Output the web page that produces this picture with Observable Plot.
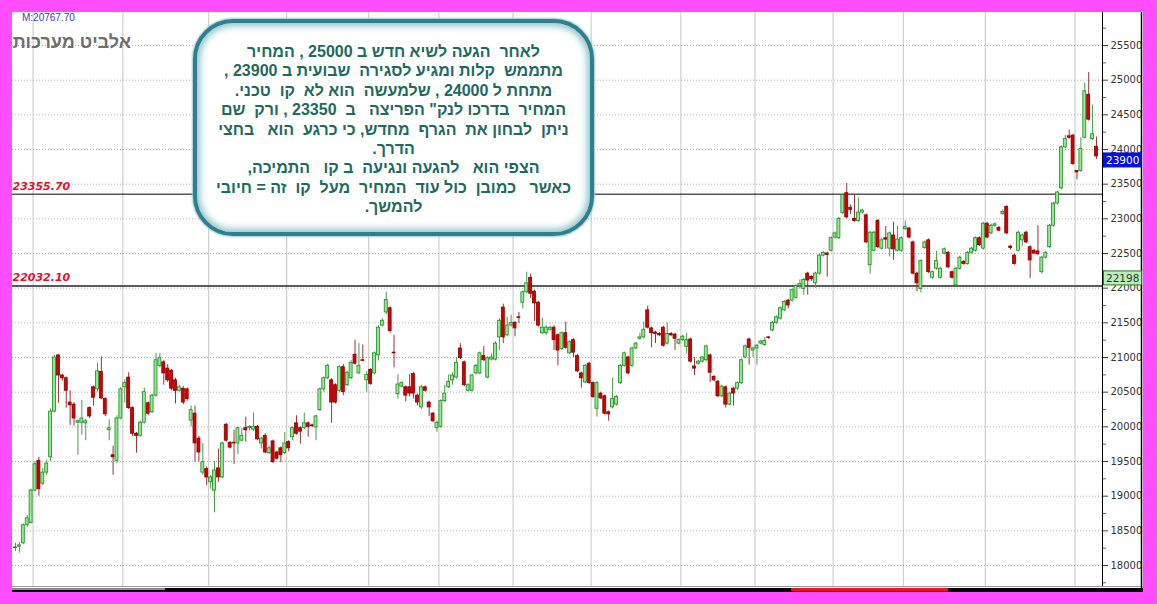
<!DOCTYPE html>
<html><head><meta charset="utf-8">
<script src="https://cdn.jsdelivr.net/npm/d3@7"></script>
<script src="https://cdn.jsdelivr.net/npm/@observablehq/plot@0.6"></script>
<style>
html,body{margin:0;padding:0;}
body{width:1157px;height:604px;background:#ff4dff;position:relative;overflow:hidden;font-family:"Liberation Sans",Arial,sans-serif;}
#panel{position:absolute;left:12px;top:12px;width:1131px;height:580px;background:#fff;overflow:hidden;}
#chart{position:absolute;left:0;top:0;}
#mlabel{position:absolute;left:10px;top:0px;font:10px "Liberation Sans",Arial,sans-serif;color:#3a3ac8;}
#title{position:absolute;right:1012px;top:20px;font:bold 18px "Liberation Sans",Arial,sans-serif;color:#6e6e6e;white-space:nowrap;direction:rtl;}
#note{position:absolute;left:181px;top:7px;width:393px;height:209px;border:4px solid #2f7f8e;border-radius:40px;background:#fff;
 box-shadow:inset 0 0 7px 3px #8dc3cc, 0 0 2px 1px #9cc8d0;box-sizing:content-box;}
#notetext{position:absolute;left:0;right:0;top:19px;direction:rtl;text-align:center;font:bold 16px "Liberation Sans",Arial,sans-serif;
 line-height:19.4px;color:#1d6a5e;white-space:pre;}
</style></head>
<body>
<div id="panel">
  <div id="chart"></div>
  <div id="mlabel"></div>
  <div id="title"></div>
  <div id="note"><div id="notetext"></div></div>
</div>
<script>
// ---------- data ----------
const open = [18250,18270,18320,18580,18610,19080,19510,19180,19340,19560,20220,21030,20740,20700,20350,20320,20060,20060,20050,20270,
20570,20540,20790,20400,19950,19590,19510,20120,20570,20710,20270,19900,19870,20060,20340,20210,20450,20880,20930,20840,
20810,20670,20520,20550,20540,20090,20190,19830,19340,19390,19200,19080,19400,19270,20030,19770,19770,19760,19800,19980,
19980,19960,20000,19760,19870,19620,19790,19630,19690,19620,19780,19850,20050,19980,19980,20050,20020,19990,20240,20540,
20700,20670,20600,20520,20860,20600,20700,21040,20770,20960,20670,20820,20770,21030,21460,21650,21710,21070,20470,20580,
20570,20570,20760,20450,20280,20570,20350,20190,19980,20000,20370,20570,20670,20710,21130,20930,20520,20520,20770,20770,
21020,20710,20970,20970,21290,21720,21320,21460,21500,21580,21790,21940,22150,21950,21790,21350,21350,21400,21430,21320,
21120,21350,21060,21250,21020,20770,20640,20910,20630,20260,20480,20440,20210,20280,20320,20630,20880,21000,20880,21130,
21270,21290,21680,21420,21360,21340,21430,21200,21340,21330,21200,21250,21150,21260,20870,20910,20940,20960,21030,20720,
20650,20440,20570,20320,20550,20550,20630,21000,21260,21100,21130,21200,21180,21290,21390,21500,21560,21680,21820,21820,
21860,22030,21990,22210,22160,22070,22210,22470,22500,22540,22730,22720,23080,23370,23160,23000,22970,23090,23050,22330,
22540,22970,22570,22720,22570,22760,22540,22540,22850,22860,22660,22210,21990,22580,22690,22150,22280,22150,22500,22510,
22230,22040,22280,22380,22350,22510,22540,22720,22570,22930,22790,22900,22870,23070,23170,22600,22470,22540,22690,22800,
22590,22540,22530,22230,22440,22590,22900,23220,23440,24030,24190,24200,23690,23690,24170,24790,24150,24040];
const high = [18320,18330,18600,18720,19100,19500,19560,19400,19520,20260,21030,21040,20760,20720,20520,20350,20100,20380,20110,20290,
20590,20920,21010,20420,20100,19720,20160,20570,20680,20780,20290,19920,20080,20560,20360,20470,21060,21060,20960,20900,
20830,20700,20600,20580,20560,20300,20300,19860,19760,19420,19300,19500,19680,19780,20050,19790,19950,20000,19980,20140,
20020,20200,20020,19850,19900,19720,19810,19650,19710,19920,19800,20000,20160,20000,20200,20070,20040,20170,20560,20720,
20900,20700,20620,20880,20900,20800,20960,21250,21200,21180,20800,20840,21080,21460,21560,21940,21730,21320,20750,20650,
20590,20750,20780,20470,20600,20590,20370,20210,20080,20390,20600,20750,20780,21000,21200,20950,20620,20760,20900,21080,
21160,21010,21050,21230,21560,21770,21580,21610,21520,21650,21960,22230,22200,21970,21810,21570,21460,21450,21460,21340,
21370,21510,21240,21270,21040,20790,20900,20930,20650,20650,20500,20460,20230,20700,20450,20900,21080,21020,21150,21220,
21350,21510,21740,21440,21380,21360,21450,21500,21360,21350,21270,21320,21350,21280,21000,20960,21020,21180,21050,20740,
20670,20600,20590,20500,20570,20650,20980,21180,21280,21150,21190,21250,21290,21300,21520,21600,21730,21820,21840,21990,
22050,22120,22140,22230,22180,22230,22490,22530,22520,22740,22810,23020,23360,23510,23200,23350,23300,23140,23070,22820,
22820,22990,22720,22890,22810,22950,22890,22740,22970,22880,22680,22230,22410,22680,22710,22250,22530,22300,22580,22530,
22250,22300,22460,22400,22530,22590,22740,22740,22950,22950,22920,22940,22890,23130,23190,22620,22490,22820,22780,22820,
22610,22560,22900,22460,22530,22920,23240,23400,24050,24200,24280,24220,23700,24170,24960,25110,24640,24180];
const low = [18200,18180,18300,18550,18600,19060,19000,19150,19300,19500,20200,20340,20660,20270,20020,20010,19590,19880,19800,20120,
20300,20500,20390,20150,19800,19300,19470,20100,20340,20250,19860,19620,19850,20040,20160,20190,20430,20850,20600,20640,
20520,20330,20500,20320,20370,20000,19490,19490,19300,19150,19100,18760,19200,19250,19780,19680,19460,19600,19780,19780,
19940,19930,19800,19680,19610,19600,19470,19520,19480,19600,19640,19800,19880,19750,19960,19850,19990,19800,20220,20500,
20680,20050,20330,20500,20450,20580,20680,20890,20760,20940,20500,20600,20750,20950,21440,21620,21350,20850,20400,20560,
20360,20430,20400,20300,20250,20500,20150,20060,19920,19980,20350,20550,20600,20690,20970,20580,20500,20500,20750,20750,
20940,20690,20950,20950,21100,21200,21300,21440,21300,21490,21700,21920,21850,21520,21440,21330,21320,21380,21100,20880,
21100,21120,21040,21000,20780,20560,20620,20610,20410,20140,20390,20170,20080,20260,20300,20610,20860,20750,20860,21110,
21250,21270,21410,21140,21200,21300,21150,21180,21300,21100,21180,21230,21050,20920,20740,20890,20920,20940,20640,20650,
20420,20420,20270,20300,20300,20530,20610,20980,20890,21000,20890,21180,21160,21260,21370,21480,21540,21660,21700,21800,
21840,21990,21900,21900,22100,22000,22190,22450,22160,22520,22710,22700,23060,23000,23060,22950,22950,23070,22640,22200,
22520,22570,22550,22560,22450,22400,22520,22520,22830,22710,22190,21950,21930,22560,22210,22130,22260,22130,22480,22280,
22130,22020,22260,22330,22330,22490,22520,22600,22550,22710,22770,22880,22810,23050,22770,22550,22330,22520,22600,22640,
22140,22480,22470,22200,22420,22570,22880,23200,23420,24010,24150,23770,23560,23670,24150,24410,24130,23860];
const close = [18260,18290,18580,18680,19080,19460,19100,19340,19470,20220,21000,20740,20700,20520,20310,20120,20080,20120,20080,20150,
20420,20800,20410,20180,19980,19560,20120,20540,20630,20270,19900,19870,20060,20500,20190,20450,20960,20990,20770,20670,
20550,20520,20570,20350,20400,20240,19760,19630,19490,19270,19270,19370,19270,19760,19800,19700,19760,19980,19870,19950,
20000,20000,19820,19830,19630,19690,19490,19540,19590,19760,19690,19980,19900,19930,20050,20000,20010,20150,20540,20700,
20880,20350,20350,20860,20500,20780,20920,20910,20880,20950,20750,20620,21060,21430,21530,21830,21380,21060,20610,20630,
20450,20480,20480,20350,20570,20520,20280,20080,20060,20370,20480,20650,20740,20920,20990,20600,20600,20740,20880,21060,
20960,20990,21000,21200,21530,21290,21460,21500,21420,21570,21940,22070,21920,21780,21460,21430,21430,21430,21250,21100,
21350,21140,21220,21070,20800,20700,20880,20630,20430,20630,20410,20190,20180,20400,20430,20880,21060,20770,21130,21200,
21290,21400,21430,21350,21340,21320,21170,21340,21320,21270,21250,21300,21250,20940,20840,20940,21000,21160,20780,20670,
20440,20580,20320,20480,20480,20630,20960,21160,21140,21130,21170,21230,21240,21280,21500,21580,21710,21800,21750,21970,
22030,22060,22120,22110,22130,22210,22470,22510,22480,22720,22790,23000,23340,23020,23130,22970,23090,23120,22660,22800,
22800,22590,22690,22700,22790,22560,22700,22720,22880,22730,22210,22070,22390,22660,22230,22230,22390,22280,22560,22300,
22150,22280,22440,22350,22510,22570,22720,22620,22930,22730,22900,22920,22830,23100,22790,22580,22350,22800,22760,22660,
22400,22500,22490,22440,22510,22900,23220,23380,24030,24150,24170,23790,23670,24010,24840,24430,24220,23900];
const monthBreaks = [4.5,27.5,49.5,69.5,90.5,108.5,127.5,147.5,170.5,189.5,209.5,227.5,248.5,271.5];
const yTicks = [18000,18500,19000,19500,20000,20500,21000,21500,22000,22500,23000,23500,24000,24500,25000,25500];
const minorTicks = d3.range(17750, 26000, 250).filter(v => v % 500 !== 0);
const levels = [23355.70, 22032.10];
const lastPrice = 23900;
const sideValue = 22198;
const markerText = "M:20767.70";
const titleText = "אלביט מערכות";
const noteLines = [
"לאחר  הגעה לשיא חדש ב 25000 , המחיר",
"מתממש  קלות ומגיע לסגירה  שבועית ב 23900 ,",
"מתחת ל 24000 , שלמעשה  הוא לא  קו  טכני.",
"המחיר  בדרכו לנק\" הפריצה   ב  23350 , ורק  שם",
"ניתן  לבחון את  הגרף  מחדש, כי כרגע  הוא   בחצי",
"הדרך.",
"הצפי הוא   להגעה ונגיעה  ב קו   התמיכה,",
"כאשר   כמובן  כול עוד  המחיר  מעל  קו  זה = חיובי",
"להמשך."
];

// ---------- chart ----------
const idx = d3.range(close.length);
const up = i => close[i] >= open[i];
const W = 1131, H = 580;

const plot = Plot.plot({
  width: W, height: H,
  marginLeft: 0, marginRight: 41, marginTop: 0, marginBottom: 6,
  style: {background: "transparent", color: "#333", fontFamily: "DejaVu Sans, Verdana, sans-serif", fontSize: "10px", overflow: "visible"},
  x: {type: "linear", domain: [-0.77, 278.54], axis: null},
  y: {domain: [17697, 25976], axis: null},
  marks: [
    Plot.ruleX(monthBreaks, {stroke: "#c6c6c6", strokeWidth: 1}),
    Plot.ruleY(yTicks, {stroke: "#b0b0b0", strokeDasharray: "1,2"}),
    Plot.ruleY([levels[1]], {stroke: "#5a5a5a", strokeWidth: 2}),
    Plot.ruleY([levels[0]], {stroke: "#000", strokeWidth: 1}),
    Plot.text(levels, {frameAnchor: "left", y: d => d, text: d => d.toFixed(2), textAnchor: "start", dy: -8,
      fill: "#e3102a", fontWeight: "bold", fontStyle: "italic", fontSize: 11, fontFamily: "DejaVu Sans, Verdana, sans-serif"}),
    Plot.ruleX(idx, {x: i => i, y1: i => low[i], y2: i => high[i], stroke: i => up(i) ? "#4c9a4c" : "#94363a", strokeWidth: 1}),
    Plot.rect(idx, {x1: i => i - 0.38, x2: i => i + 0.38, y1: i => open[i], y2: i => close[i],
      fill: i => up(i) ? "#93e893" : "#d20000", stroke: i => up(i) ? "#1e8a1e" : "#8a0000", strokeWidth: 0.8}),
    Plot.axisY(minorTicks, {anchor: "right", tickSize: 3, tickFormat: () => "", label: null, stroke: "#666"}),
    Plot.axisY(yTicks, {anchor: "right", tickSize: 5, tickPadding: 3, tickFormat: d => String(d), label: null, fill: "#333", stroke: "#444"})
  ]
});
document.getElementById("chart").appendChild(plot);

// frame lines, bottom bar and value boxes, positioned with the plot's scales
const sx = plot.scale("x"), sy = plot.scale("y");
const svg = d3.select(plot);
const xr = sx.range[1], yb = sy.range[0];
svg.append("line").attr("x1", xr + 0.5).attr("x2", xr + 0.5).attr("y1", 0).attr("y2", yb).attr("stroke", "#000");
svg.append("line").attr("x1", 0).attr("x2", W).attr("y1", yb + 0.5).attr("y2", yb + 0.5).attr("stroke", "#9a9a9a");
svg.append("rect").attr("x", 0).attr("y", yb + 2).attr("width", W).attr("height", H - yb - 2).attr("fill", "#000");
svg.append("rect").attr("x", 0).attr("y", yb + 2).attr("width", 153).attr("height", 2).attr("fill", "#8a8a8a");
svg.append("rect").attr("x", 779).attr("y", yb + 2).attr("width", 157).attr("height", 3).attr("fill", "#e8141e");
svg.append("line").attr("x1", W - 1.5).attr("x2", W - 1.5).attr("y1", 0).attr("y2", H).attr("stroke", "#000").attr("stroke-width", 1.5);

function valueBox(v, fill, stroke, txt) {
  const y = sy.apply(v) + 4;
  svg.append("rect").attr("x", xr + 1.5).attr("y", y - 7).attr("width", 38).attr("height", 14)
    .attr("fill", fill).attr("stroke", stroke).attr("stroke-width", 1);
  svg.append("text").attr("x", xr + 4).attr("y", y + 4).attr("fill", txt).attr("text-anchor", "start")
    .attr("font-family", "DejaVu Sans, Verdana, sans-serif").attr("font-size", 10.5).text(String(v));
}
valueBox(lastPrice, "#0010e0", "#0010e0", "#fff");
valueBox(sideValue, "#b6f0b6", "#2a7a2a", "#333");

document.getElementById("mlabel").textContent = markerText;
document.getElementById("title").textContent = titleText;
document.getElementById("notetext").textContent = noteLines.join("\n");
</script>
</body></html>
